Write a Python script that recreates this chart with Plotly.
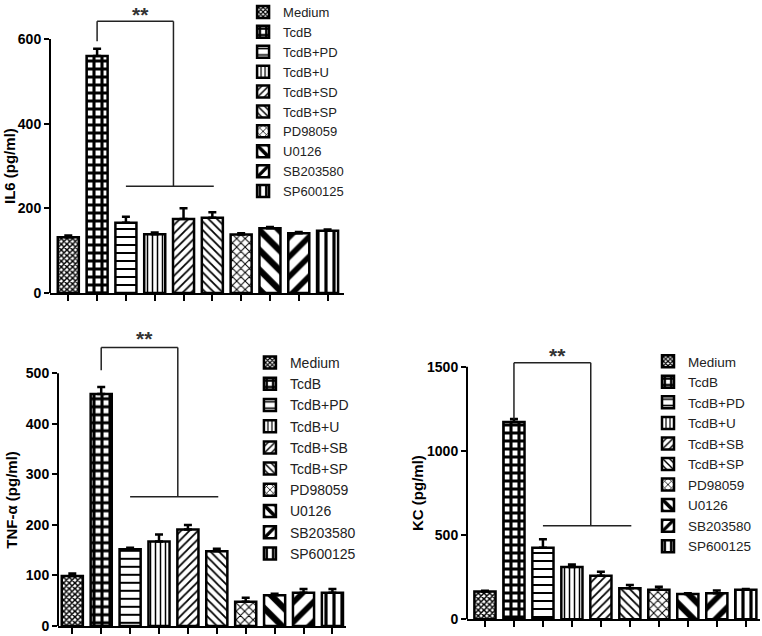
import plotly.graph_objects as go

# groups (panel 1 uses "TcdB+SD" as printed in the figure)
groups_il6 = ["Medium", "TcdB", "TcdB+PD", "TcdB+U", "TcdB+SD", "TcdB+SP",
              "PD98059", "U0126", "SB203580", "SP600125"]
groups_tnf = ["Medium", "TcdB", "TcdB+PD", "TcdB+U", "TcdB+SB", "TcdB+SP",
              "PD98059", "U0126", "SB203580", "SP600125"]
groups_kc = groups_tnf

il6_mean = [132, 560, 166, 139, 175, 178, 138, 153, 141, 147]
il6_err = [4, 17, 14, 4, 25, 13, 3, 3, 3, 3]

tnf_mean = [99, 459, 152, 167, 191, 148, 48, 61, 66, 66]
tnf_err = [5, 14, 3, 14, 9, 5, 8, 3, 7, 7]

kc_mean = [165, 1172, 425, 310, 258, 185, 175, 150, 155, 176]
kc_err = [5, 18, 50, 16, 24, 18, 18, 4, 16, 4]

# pattern per group: (shape, size, solidity)
patterns = [("x", 4, 0.6), ("+", 8, 0.62), ("-", 8, 0.25), ("|", 5, 0.3),
            ("/", 6, 0.3), ("\\", 6, 0.3), ("x", 6, 0.3), ("\\", 14, 0.45),
            ("/", 14, 0.4), ("|", 8, 0.4)]

FONT = "Liberation Sans, Arial, sans-serif"

panels = [
    dict(name="il6", groups=groups_il6, mean=il6_mean, err=il6_err, xa="x", ya="y",
         legend="legend", title="IL6 (pg/ml)", top=600, ticks=[0, 200, 400, 600],
         bracket=(642, 595, 252), stars=690),
    dict(name="tnf", groups=groups_tnf, mean=tnf_mean, err=tnf_err, xa="x2", ya="y2",
         legend="legend2", title="TNF-α (pg/ml)", top=500, ticks=[0, 100, 200, 300, 400, 500],
         bracket=(551, 506, 256), stars=596),
    dict(name="kc", groups=groups_kc, mean=kc_mean, err=kc_err, xa="x3", ya="y3",
         legend="legend3", title="KC (pg/ml)", top=1500, ticks=[0, 500, 1000, 1500],
         bracket=(1524, 1188, 556), stars=1645),
]

fig = go.Figure()

for p in panels:
    for i, g in enumerate(p["groups"]):
        shape, size, sol = patterns[i]
        fig.add_trace(go.Bar(
            x=[g], y=[p["mean"][i]], name=g,
            xaxis=p["xa"], yaxis=p["ya"], legend=p["legend"],
            marker=dict(color="white", line=dict(color="black", width=2.5),
                        pattern=dict(shape=shape, size=size, solidity=sol,
                                     fgcolor="black", bgcolor="white", fillmode="replace")),
            error_y=dict(type="data", symmetric=False, array=[p["err"][i]], arrayminus=[0],
                         color="black", thickness=2.5, width=4),
        ))

W, H = 762, 636


def xdom(a, b):
    return [a / W, b / W]


def ydom(top, bottom):
    return [1 - bottom / H, 1 - top / H]


xcommon = dict(showline=True, linecolor="black", linewidth=2, ticks="outside",
               ticklen=6, tickwidth=1.5, tickcolor="black", showticklabels=False,
               showgrid=False, zeroline=False, type="category", automargin=False)
ycommon = dict(showline=False, ticks="outside", ticklen=5, tickwidth=2, tickcolor="black",
               showgrid=False, zeroline=False, automargin=False,
               tickfont=dict(family=FONT, size=14, color="black", weight="bold"))

fig.update_layout(
    width=W, height=H, margin=dict(l=0, r=0, t=0, b=0, autoexpand=False),
    plot_bgcolor="white", paper_bgcolor="white",
    barmode="overlay", bargap=0.27,
    font=dict(family=FONT, color="black"),
    xaxis=dict(xcommon, domain=xdom(50, 344), range=[-0.635, 9.57],
               categoryarray=groups_il6, anchor="y"),
    yaxis=dict(ycommon, domain=ydom(1, 293), range=[0, 690],
               tickvals=panels[0]["ticks"], anchor="x"),
    xaxis2=dict(xcommon, domain=xdom(58, 346), range=[-0.495, 9.47],
                categoryarray=groups_tnf, anchor="y2"),
    yaxis2=dict(ycommon, domain=ydom(322.8, 626), range=[0, 600],
                tickvals=panels[1]["ticks"], anchor="x2"),
    xaxis3=dict(xcommon, domain=xdom(467, 760), range=[-0.62, 9.49],
                categoryarray=groups_kc, anchor="y3"),
    yaxis3=dict(ycommon, domain=ydom(333, 619.3), range=[0, 1700],
                tickvals=panels[2]["ticks"], anchor="x3"),
    legend=dict(x=0.319, y=1.0047, xanchor="left", yanchor="top",
                font=dict(family=FONT, size=13, color="#222"), bgcolor="rgba(0,0,0,0)"),
    legend2=dict(x=0.328, y=0.4544, xanchor="left", yanchor="top",
                 font=dict(family=FONT, size=14, color="#222"), bgcolor="rgba(0,0,0,0)"),
    legend3=dict(x=0.8504, y=0.456, xanchor="left", yanchor="top",
                 font=dict(family=FONT, size=13.5, color="#222"), bgcolor="rgba(0,0,0,0)"),
)

title_x = {"il6": 9, "tnf": 12, "kc": 418}
line = dict(color="#222", width=1.5)
for p in panels:
    xa, ya = p["xa"], p["ya"]
    ytop, ydrop, ylow = p["bracket"]
    # y axis line ending at the top tick
    fig.add_shape(type="line", xref=xa + " domain", yref=ya, x0=0, x1=0, y0=0, y1=p["top"],
                  line=dict(color="black", width=2))
    # significance bracket
    fig.add_shape(type="line", xref=xa, yref=ya, x0=1, x1=1, y0=ydrop, y1=ytop, line=line)
    fig.add_shape(type="line", xref=xa, yref=ya, x0=1, x1=3.65, y0=ytop, y1=ytop, line=line)
    fig.add_shape(type="line", xref=xa, yref=ya, x0=3.65, x1=3.65, y0=ytop, y1=ylow, line=line)
    fig.add_shape(type="line", xref=xa, yref=ya, x0=2, x1=5.05, y0=ylow, y1=ylow, line=line)
    fig.add_annotation(xref=xa, yref=ya, x=2.5, y=p["stars"], text="**", showarrow=False,
                       yanchor="top",
                       font=dict(family=FONT, size=21, color="#333", weight="bold"))
    fig.add_annotation(xref="paper", yref=ya, x=title_x[p["name"]] / W, y=p["top"] / 2,
                       text=p["title"], textangle=-90, showarrow=False,
                       xanchor="center", yanchor="middle",
                       font=dict(family=FONT, size=15, color="black", weight="bold"))

# drop the page's default body margin so the figure sits at the window's corner
fig.write_html("out.html", config={"displayModeBar": False},
               post_script="document.body.style.margin='0';")
